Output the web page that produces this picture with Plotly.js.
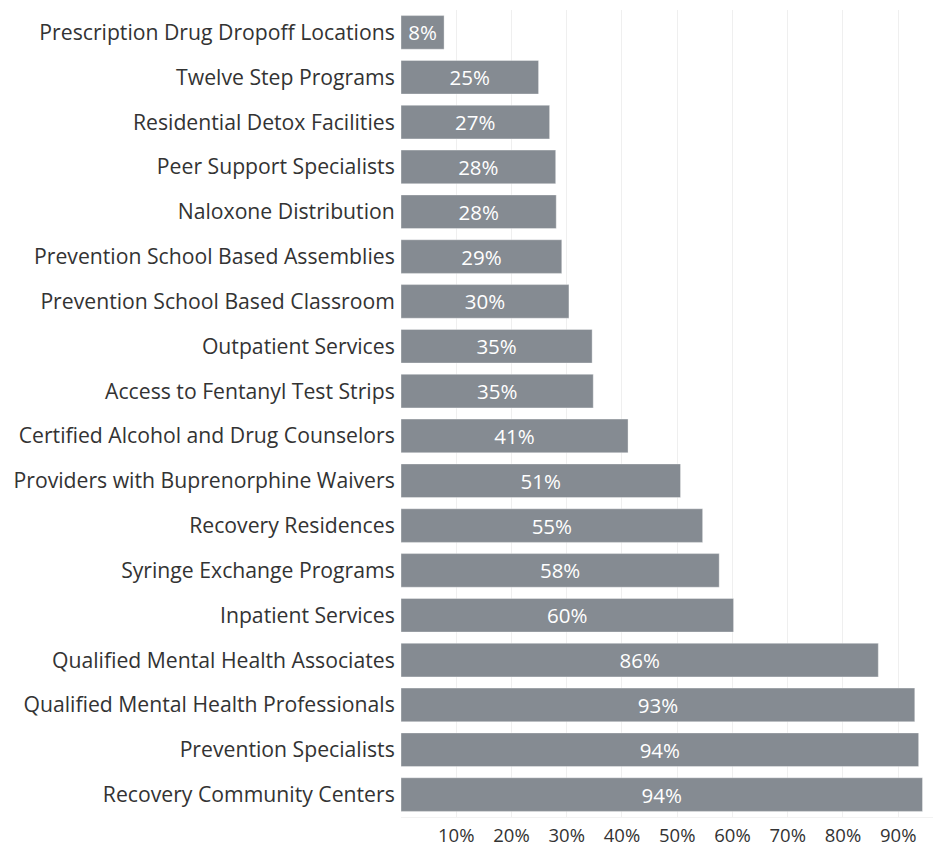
<!DOCTYPE html>
<html>
<head>
<meta charset="utf-8">
<script src="https://cdn.plot.ly/plotly-3.0.1.min.js"></script>
<style>
html,body{margin:0;padding:0;background:#fff;}
#chart{width:933px;height:850px;}
</style>
</head>
<body>
<div id="chart"></div>
<script>
const categories = [
  "Prescription Drug Dropoff Locations",
  "Twelve Step Programs",
  "Residential Detox Facilities",
  "Peer Support Specialists",
  "Naloxone Distribution",
  "Prevention School Based Assemblies",
  "Prevention School Based Classroom",
  "Outpatient Services",
  "Access to Fentanyl Test Strips",
  "Certified Alcohol and Drug Counselors",
  "Providers with Buprenorphine Waivers",
  "Recovery Residences",
  "Syringe Exchange Programs",
  "Inpatient Services",
  "Qualified Mental Health Associates",
  "Qualified Mental Health Professionals",
  "Prevention Specialists",
  "Recovery Community Centers"
];
const percentages = [7.8, 24.9, 26.9, 28.0, 28.1, 29.1, 30.4, 34.6, 34.8, 41.1, 50.6, 54.6, 57.6, 60.2, 86.4, 93.0, 93.7, 94.4];
const tickValues = [10, 20, 30, 40, 50, 60, 70, 80, 90];
const tickLabels = ["10%", "20%", "30%", "40%", "50%", "60%", "70%", "80%", "90%"];

const FONT = "'Open Sans', 'Noto Sans', sans-serif";

const trace = {
  type: "bar",
  orientation: "h",
  y: categories,
  x: percentages,
  marker: {color: "#858b92", line: {color: "rgba(255,255,255,0.35)", width: 1}},
  texttemplate: "%{x:.0f}%",
  textposition: "inside",
  insidetextanchor: "middle",
  constraintext: "none",
  textfont: {family: FONT, size: 20.5, color: "#ffffff"},
  hoverinfo: "skip"
};

const layout = {
  width: 933,
  height: 850,
  margin: {l: 401, r: 0, t: 10, b: 33},
  paper_bgcolor: "#ffffff",
  plot_bgcolor: "#ffffff",
  bargap: 0.25,
  showlegend: false,
  font: {family: FONT, color: "#333333"},
  xaxis: {
    range: [0, 96.3],
    tickvals: tickValues,
    ticktext: tickLabels,
    showgrid: true,
    gridcolor: "#efefef",
    gridwidth: 1,
    zeroline: false,
    showline: true,
    linecolor: "#f2f2f2",
    linewidth: 1,
    ticks: "outside",
    ticklen: 2,
    tickcolor: "rgba(0,0,0,0)",
    tickfont: {family: FONT, size: 18.5, color: "#333333"},
    fixedrange: true
  },
  yaxis: {
    type: "category",
    categoryorder: "array",
    categoryarray: categories,
    autorange: "reversed",
    showgrid: false,
    zeroline: false,
    showline: false,
    ticks: "outside",
    ticklen: 1,
    tickcolor: "rgba(0,0,0,0)",
    tickfont: {family: FONT, size: 21.2, color: "#333333"},
    fixedrange: true
  }
};

Plotly.newPlot("chart", [trace], layout, {displayModeBar: false, staticPlot: true});
</script>
</body>
</html>
